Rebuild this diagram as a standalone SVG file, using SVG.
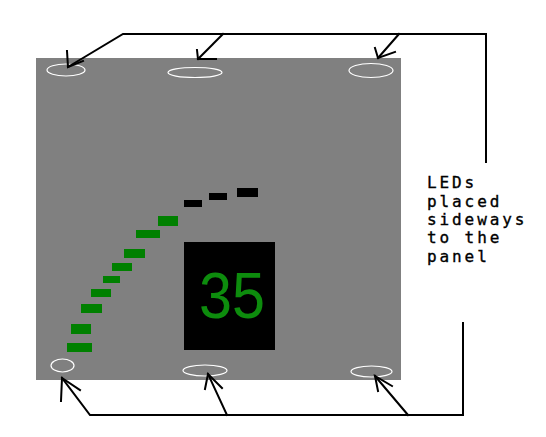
<svg xmlns="http://www.w3.org/2000/svg" width="546" height="437" viewBox="0 0 546 437">
<style>
.led{fill:#008000}
.off{fill:#000}
.hole{fill:none;stroke:#fff;stroke-width:1.2}
.wire{fill:none;stroke:#000;stroke-width:2;stroke-linecap:square;stroke-linejoin:miter}
.lbl{font-family:"DejaVu Sans Mono","Liberation Mono",monospace;font-size:16px;letter-spacing:2.9px;fill:#000;stroke:#000;stroke-width:0.35}
</style>
<rect width="546" height="437" fill="#fff"/>
<g id="panel">
<rect x="36" y="58" width="365" height="322" fill="#808080"/>
</g>
<g id="holes-top">
<ellipse class="hole" cx="66" cy="70" rx="19" ry="6"/>
<ellipse class="hole" cx="195" cy="72.5" rx="27" ry="5"/>
<ellipse class="hole" cx="371" cy="70.5" rx="22" ry="7"/>
</g>
<g id="holes-bottom">
<ellipse class="hole" cx="62.5" cy="365.5" rx="11.5" ry="6.5"/>
<ellipse class="hole" cx="205" cy="370.5" rx="22" ry="5.5"/>
<ellipse class="hole" cx="371.5" cy="371.5" rx="20.5" ry="5.5"/>
</g>
<g id="led-bar">
<rect class="off" x="184" y="200" width="18" height="7"/>
<rect class="off" x="209" y="193" width="18" height="7"/>
<rect class="off" x="237" y="188" width="21" height="9"/>
<rect class="led" x="158" y="216" width="20" height="10"/>
<rect class="led" x="136" y="230" width="24" height="8"/>
<rect class="led" x="124" y="249" width="21" height="9"/>
<rect class="led" x="112" y="263" width="20" height="8"/>
<rect class="led" x="103" y="276" width="17" height="7"/>
<rect class="led" x="91" y="289" width="20" height="8"/>
<rect class="led" x="81" y="304" width="21" height="9"/>
<rect class="led" x="71" y="324" width="20" height="10"/>
<rect class="led" x="67" y="343" width="25" height="9"/>
</g>
<g id="display">
<rect x="184" y="242" width="91" height="108" fill="#000"/>
<text x="199" y="318" font-family="Liberation Sans, Arial, sans-serif" font-size="64" fill="#0d8c0d" textLength="66" lengthAdjust="spacingAndGlyphs">35</text>
</g>
<g id="connectors">
<polyline class="wire" points="486,162 486,34 123,34 68,67"/>
<polyline class="wire" points="67,51 68,67 83,61"/>
<line class="wire" x1="223" y1="34" x2="198" y2="59"/>
<polyline class="wire" points="197,50 198,59 216,59"/>
<line class="wire" x1="399" y1="34" x2="378" y2="58"/>
<polyline class="wire" points="375,48 378,58 395,52"/>
<polyline class="wire" points="463,323 463,415 90,415 62,378"/>
<polyline class="wire" points="61,401 62,378 80,390"/>
<line class="wire" x1="227" y1="415" x2="208" y2="374"/>
<polyline class="wire" points="205,389 208,374 222,388"/>
<line class="wire" x1="408" y1="415" x2="375" y2="376"/>
<polyline class="wire" points="378,391 375,376 392,386"/>
</g>
<g id="label">
<text class="lbl" x="427" y="188">LEDs</text>
<text class="lbl" x="427" y="206.5">placed</text>
<text class="lbl" x="427" y="225">sideways</text>
<text class="lbl" x="427" y="243">to the</text>
<text class="lbl" x="427" y="261.5">panel</text>
</g>
</svg>
